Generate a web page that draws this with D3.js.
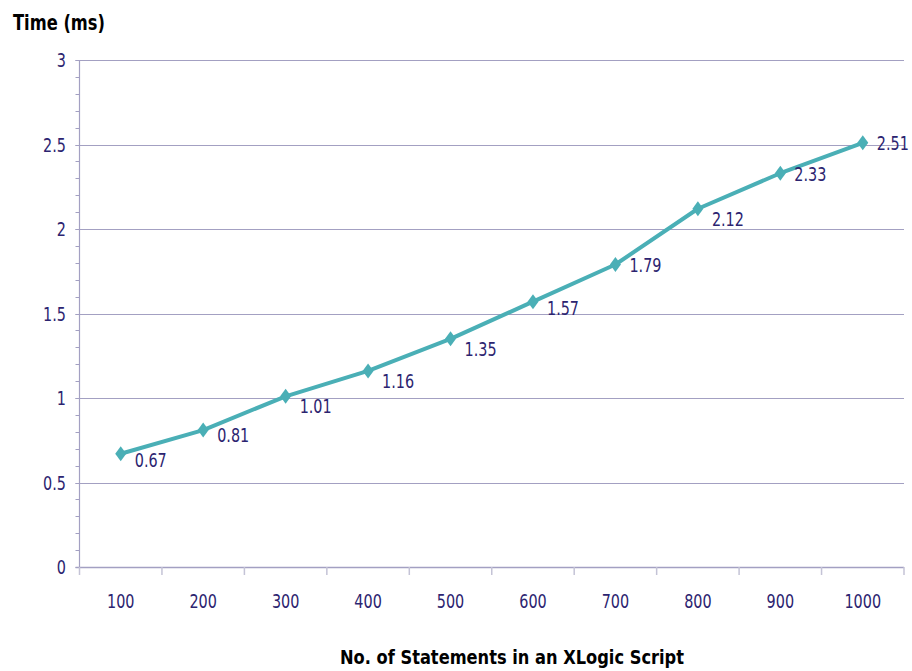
<!DOCTYPE html>
<html>
<head>
<meta charset="utf-8">
<script src="https://cdn.jsdelivr.net/npm/d3@7"></script>
<style>
  html, body { margin: 0; padding: 0; background: #fff; }
  svg { display: block; }
</style>
</head>
<body>
<svg id="chart" width="912" height="671"></svg>
<script>
// Execution time by script size
const statements = ["100", "200", "300", "400", "500", "600", "700", "800", "900", "1000"];
const timeMs = [0.67, 0.81, 1.01, 1.16, 1.35, 1.57, 1.79, 2.12, 2.33, 2.51];
const yTicks = [0, 0.5, 1, 1.5, 2, 2.5, 3];
const yMinorTicks = d3.range(0, 3.0001, 0.1);

const svg = d3.select("#chart");
const W = 912, H = 671;
const plotLeft = 79.5, plotRight = 904, plotTop = 60, plotBottom = 567;

const labelColor = "#2c2470";
const axisColor = "#a3a0c2";
const lineColor = "#4aafb6";
const fontFamily = "DejaVu Sans, Verdana, sans-serif";
const fontSize = 20;
const squeeze = 0.72;

// vertical nudge of each value label below its point (keeps labels clear of the line)
const labelDrop = [13, 12, 17, 17, 17, 13, 8, 17, 8, 7];

const x = d3.scaleBand().domain(statements).range([plotLeft, plotRight]);
const y = d3.scaleLinear().domain([0, 3]).range([plotBottom, plotTop]);

svg.append("rect").attr("width", W).attr("height", H).attr("fill", "#fff");

// horizontal gridlines (also form the major y ticks)
svg.append("g").selectAll("line").data(yTicks.filter(d => d > 0)).join("line")
  .attr("x1", plotLeft - 4).attr("x2", plotRight)
  .attr("y1", d => Math.round(y(d)) + 0.5).attr("y2", d => Math.round(y(d)) + 0.5)
  .attr("stroke", axisColor).attr("stroke-width", 1.2);

// minor y ticks
svg.append("g").selectAll("line").data(yMinorTicks).join("line")
  .attr("x1", plotLeft - 4).attr("x2", plotLeft)
  .attr("y1", d => Math.round(y(d)) + 0.5).attr("y2", d => Math.round(y(d)) + 0.5)
  .attr("stroke", axisColor).attr("stroke-width", 1);

// y axis line
svg.append("line")
  .attr("x1", plotLeft).attr("x2", plotLeft).attr("y1", plotTop).attr("y2", plotBottom)
  .attr("stroke", axisColor).attr("stroke-width", 1.2);

// x axis line and category separators
svg.append("line")
  .attr("x1", plotLeft - 4).attr("x2", plotRight).attr("y1", plotBottom + 0.5).attr("y2", plotBottom + 0.5)
  .attr("stroke", axisColor).attr("stroke-width", 1.5);

const sepPositions = statements.map(s => x(s)).concat([plotRight]);
svg.append("g").selectAll("line").data(sepPositions).join("line")
  .attr("x1", d => d).attr("x2", d => d)
  .attr("y1", plotBottom).attr("y2", plotBottom + 8)
  .attr("stroke", "#c4c3d6").attr("stroke-width", 1.5);

// y tick labels
svg.append("g").selectAll("text").data(yTicks).join("text")
  .attr("transform", d => `translate(66,${y(d)}) scale(${squeeze},1)`)
  .attr("text-anchor", "end").attr("dy", "0.36em")
  .attr("font-family", fontFamily).attr("font-size", fontSize)
  .attr("fill", labelColor)
  .text(d => d);

// x tick labels
svg.append("g").selectAll("text").data(statements).join("text")
  .attr("transform", d => `translate(${x(d) + x.bandwidth() / 2},608) scale(${squeeze},1)`)
  .attr("text-anchor", "middle")
  .attr("font-family", fontFamily).attr("font-size", fontSize)
  .attr("fill", labelColor)
  .text(d => d);

// series line
const pts = statements.map((s, i) => [x(s) + x.bandwidth() / 2, y(timeMs[i])]);
svg.append("path")
  .attr("d", d3.line()(pts))
  .attr("fill", "none").attr("stroke", lineColor)
  .attr("stroke-width", 4).attr("stroke-linejoin", "round");

// diamond markers
svg.append("g").selectAll("path").data(pts).join("path")
  .attr("transform", d => `translate(${d[0]},${d[1]})`)
  .attr("d", "M0,-7.5L5.5,0L0,7.5L-5.5,0Z")
  .attr("fill", lineColor);

// value labels
svg.append("g").selectAll("text").data(timeMs).join("text")
  .attr("transform", (d, i) => `translate(${pts[i][0] + 14},${pts[i][1] + labelDrop[i]}) scale(${squeeze},1)`)
  .attr("font-family", fontFamily).attr("font-size", fontSize)
  .attr("fill", labelColor)
  .text(d => d.toFixed(2));

// axis titles
svg.append("text")
  .attr("x", 13).attr("y", 30)
  .attr("font-family", fontFamily).attr("font-weight", "bold")
  .attr("font-size", 20.5).attr("fill", "#000")
  .attr("textLength", 92).attr("lengthAdjust", "spacingAndGlyphs")
  .text("Time (ms)");

svg.append("text")
  .attr("x", 340).attr("y", 664)
  .attr("font-family", fontFamily).attr("font-weight", "bold")
  .attr("font-size", 19.5).attr("fill", "#000")
  .attr("textLength", 344).attr("lengthAdjust", "spacingAndGlyphs")
  .text("No. of Statements in an XLogic Script");
</script>
</body>
</html>
